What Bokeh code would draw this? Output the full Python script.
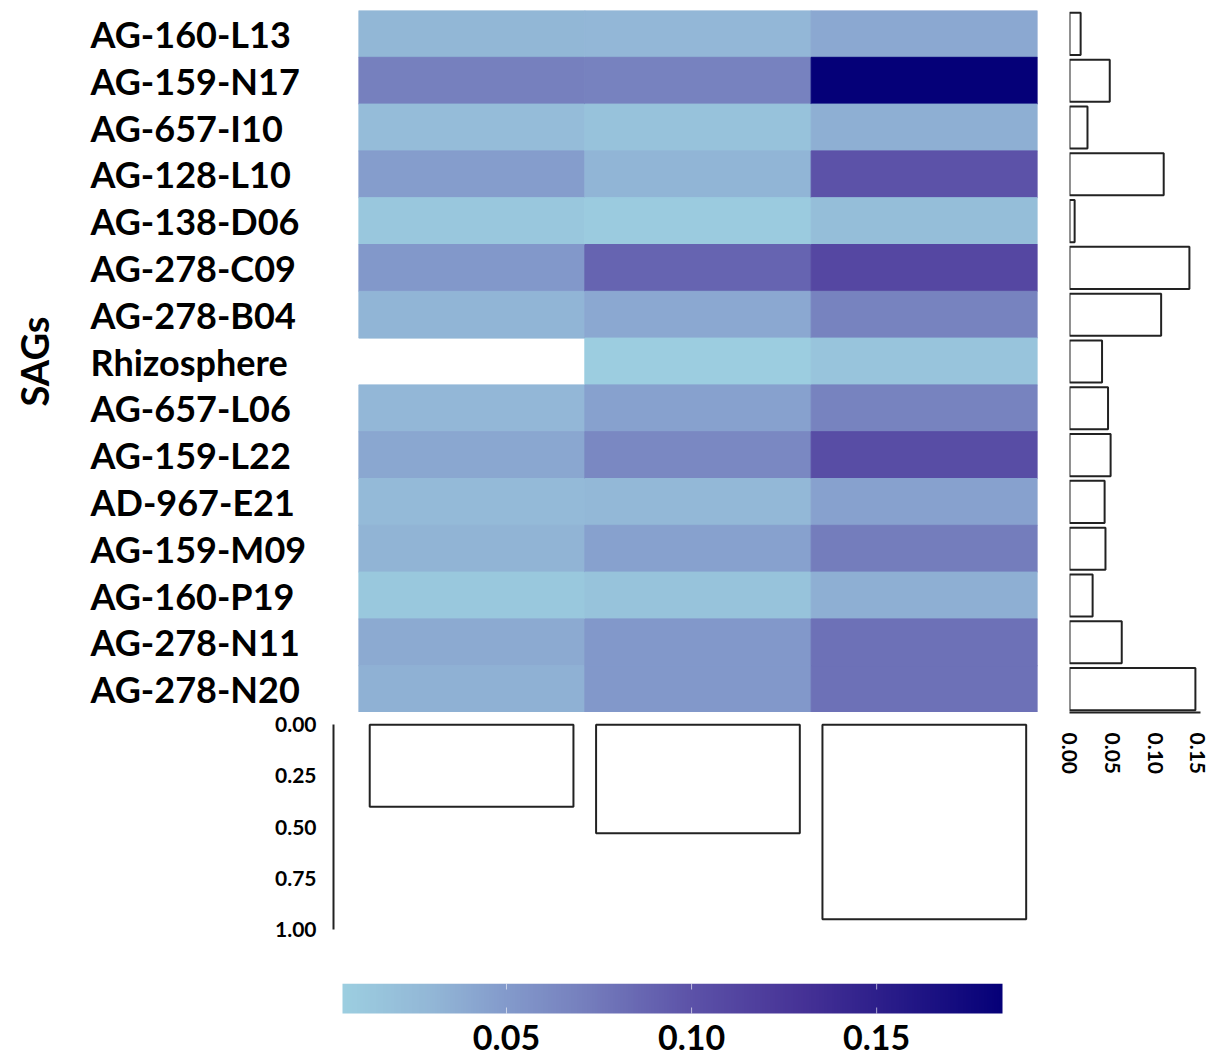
import numpy as np
from bokeh.plotting import figure
from bokeh.layouts import row, column
from bokeh.models import (Range1d, FactorRange, LinearColorMapper, FixedTicker,
                          ColumnDataSource, NumeralTickFormatter)
from bokeh.core.properties import value
from bokeh.embed import file_html
from bokeh.resources import INLINE

# ---------------- data ----------------
sags = ["AG-160-L13", "AG-159-N17", "AG-657-I10", "AG-128-L10", "AG-138-D06",
        "AG-278-C09", "AG-278-B04", "Rhizosphere", "AG-657-L06", "AG-159-L22",
        "AD-967-E21", "AG-159-M09", "AG-160-P19", "AG-278-N11", "AG-278-N20"]
col1 = [0.030, 0.070, 0.024, 0.048, 0.013, 0.052, 0.031, None, 0.029, 0.041,
        0.026, 0.032, 0.012, 0.039, 0.034]
col2 = [0.029, 0.069, 0.018, 0.031, 0.009, 0.088, 0.040, 0.007, 0.045, 0.064,
        0.028, 0.045, 0.017, 0.052, 0.052]
col3 = [0.040, 0.184, 0.035, 0.100, 0.022, 0.110, 0.068, 0.016, 0.068, 0.105,
        0.045, 0.072, 0.035, 0.080, 0.080]
row_totals = [0.013, 0.047, 0.021, 0.110, 0.006, 0.140, 0.107, 0.038, 0.045,
              0.048, 0.041, 0.042, 0.027, 0.061, 0.147]
col_totals = [0.40, 0.53, 0.95]
y_ticks = [0.0, 0.25, 0.50, 0.75, 1.00]
x_ticks_right = [0.0, 0.05, 0.10, 0.15]
cbar_ticks = [0.05, 0.10, 0.15]
cbar_tick_labels = ["0.05", "0.10", "0.15"]
cbar_low, cbar_high = 0.0057, 0.184

FONT = "Lato"

# ---------------- palette ----------------
anch_v = [0.0057, 0.03, 0.05, 0.07, 0.10, 0.13, 0.184]
anch_c = [(156, 206, 224), (146, 182, 214), (131, 154, 203), (118, 128, 190),
          (92, 82, 168), (70, 50, 150), (5, 0, 120)]
vv = np.linspace(cbar_low, cbar_high, 256)
chan = [np.interp(vv, anch_v, [c[i] for c in anch_c]) for i in range(3)]
palette = ["#%02x%02x%02x" % (int(round(r)), int(round(g)), int(round(b)))
           for r, g, b in zip(*chan)]
mapper = LinearColorMapper(palette=palette, low=cbar_low, high=cbar_high)

yr = FactorRange(factors=list(reversed(sags)))


def clean(p):
    p.toolbar_location = None
    p.outline_line_color = None
    p.xgrid.visible = False
    p.ygrid.visible = False
    p.background_fill_color = "white"
    p.border_fill_color = "white"


# ---------------- labels figure ----------------
lab = figure(width=358, height=712, x_range=Range1d(0, 358), y_range=yr,
             output_backend="svg", toolbar_location=None,
             min_border_left=0, min_border_right=0, min_border_top=10, min_border_bottom=0)
clean(lab)
lab.xaxis.visible = False
lab.yaxis.visible = False
lab.text(x=[90] * len(sags), y=sags, text=sags, text_font=value(FONT),
         text_font_style="bold", text_font_size="36px", text_color="black",
         text_align="left", text_baseline="middle")
lab.text(x=[33], y=["Rhizosphere"], text=["SAGs"], angle=np.pi / 2,
         text_font=value(FONT), text_font_style="bold", text_font_size="38px",
         text_color="black", text_align="center", text_baseline="middle")

# ---------------- heatmap ----------------
heat = figure(width=687, height=712, x_range=Range1d(0, 3), y_range=yr,
              output_backend="svg", toolbar_location=None,
              min_border_left=0, min_border_right=8, min_border_top=10, min_border_bottom=0)
clean(heat)
heat.xaxis.visible = False
heat.yaxis.visible = False
xs, ys, vals = [], [], []
for ci, col in enumerate([col1, col2, col3]):
    for s, v in zip(sags, col):
        if v is not None:
            xs.append(ci + 0.5)
            ys.append(s)
            vals.append(v)
hsrc = ColumnDataSource(dict(x=xs, y=ys, v=vals))
heat.rect(x="x", y="y", width=1.0, height=1.0, source=hsrc,
          fill_color={"field": "v", "transform": mapper},
          line_color={"field": "v", "transform": mapper}, line_width=1)

# ---------------- right bar chart ----------------
rbar = figure(width=166, height=790, x_range=Range1d(0, 0.1658), y_range=yr,
              output_backend="svg", toolbar_location=None,
              min_border_left=24, min_border_right=0, min_border_top=10, min_border_bottom=78)
clean(rbar)
rbar.yaxis.visible = False
rbar.hbar(y=sags, left=0, right=row_totals, height=0.9, fill_color="white",
          line_color="#222222", line_width=2)
ax = rbar.xaxis[0]
ax.ticker = FixedTicker(ticks=x_ticks_right)
ax.formatter = NumeralTickFormatter(format="0.00")
ax.bounds = (0, 0.153)
ax.major_label_orientation = -np.pi / 2
ax.major_label_text_font = FONT
ax.major_label_text_font_style = "bold"
ax.major_label_text_font_size = "21px"
ax.major_label_text_color = "black"
ax.major_tick_line_color = None
ax.minor_tick_line_color = None
ax.axis_line_color = "#222222"
ax.axis_line_width = 2
ax.major_label_standoff = 14

# ---------------- bottom bar chart ----------------
bbar = figure(width=1045, height=230, x_range=Range1d(-0.11, 3),
              y_range=Range1d(1.0, -0.06),
              output_backend="svg", toolbar_location=None,
              min_border_left=333, min_border_right=8, min_border_top=0, min_border_bottom=13)
clean(bbar)
bbar.xaxis.visible = False
bbar.vbar(x=[i + 0.5 for i in range(len(col_totals))], bottom=0, top=col_totals,
          width=0.9, fill_color="white", line_color="#222222", line_width=2)
ay = bbar.yaxis[0]
ay.ticker = FixedTicker(ticks=y_ticks)
ay.formatter = NumeralTickFormatter(format="0.00")
ay.bounds = (0, 1)
ay.major_label_text_font = FONT
ay.major_label_text_font_style = "bold"
ay.major_label_text_font_size = "21px"
ay.major_label_text_color = "black"
ay.major_tick_line_color = None
ay.minor_tick_line_color = None
ay.axis_line_color = "#222222"
ay.axis_line_width = 2
ay.major_label_standoff = 11

# ---------------- colour bar ----------------
px_per_unit = 660 / (cbar_high - cbar_low)
cb = figure(width=1045, height=115,
            x_range=Range1d(cbar_low - 9 / px_per_unit, cbar_high + 35 / px_per_unit),
            y_range=Range1d(1 - 74 / 30, 1), output_backend="svg", toolbar_location=None,
            min_border_left=333, min_border_right=8, min_border_top=41, min_border_bottom=0)
clean(cb)
cb.xaxis.visible = False
cb.yaxis.visible = False
grad = np.linspace(cbar_low, cbar_high, 512).reshape(1, -1)
cb.image(image=[grad], x=cbar_low, y=0, dw=cbar_high - cbar_low, dh=1,
         color_mapper=mapper)
cb.segment(x0=cbar_ticks, y0=[0] * 3, x1=cbar_ticks, y1=[0.2] * 3,
           line_color="white", line_alpha=0.6, line_width=1)
cb.segment(x0=cbar_ticks, y0=[0.8] * 3, x1=cbar_ticks, y1=[1.0] * 3,
           line_color="white", line_alpha=0.6, line_width=1)
cb.text(x=cbar_ticks, y=[-0.8] * 3, text=cbar_tick_labels, text_font=value(FONT),
        text_font_style="bold", text_font_size="34px", text_color="black",
        text_align="center", text_baseline="middle")

layout = row(column(row(lab, heat), bbar, cb), rbar)

open("out.html", "w").write(file_html(layout, INLINE))
